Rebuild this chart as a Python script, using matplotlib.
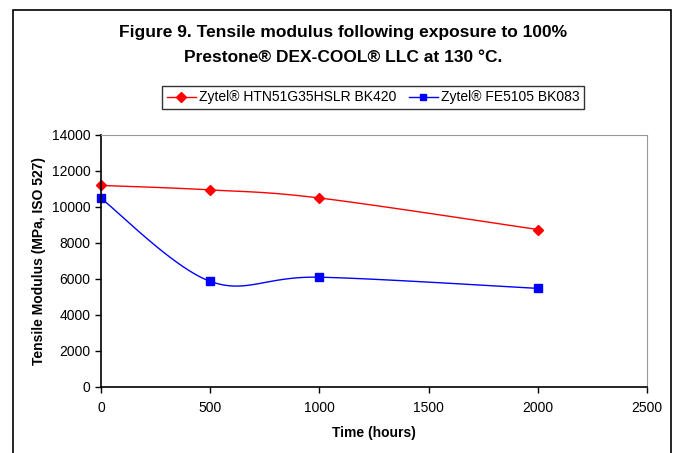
import numpy as np
import matplotlib
matplotlib.use("Agg")
from matplotlib import pyplot as plt
from matplotlib.patches import Rectangle
from matplotlib.lines import Line2D

plt.rcParams['font.family'] = ['Liberation Sans', 'DejaVu Sans']

# Data
hours = [0, 500, 1000, 2000]
htn51 = [11200, 10950, 10500, 8750]
fe5105 = [10480, 5870, 6100, 5480]
series_names = ["Zytel® HTN51G35HSLR BK420", "Zytel® FE5105 BK083"]
x_ticks = [0, 500, 1000, 1500, 2000, 2500]
y_ticks = [0, 2000, 4000, 6000, 8000, 10000, 12000, 14000]


def smooth(xs, ys, n=40):
    # Excel-style smoothed line: Catmull-Rom through the points as Bezier curves
    p = np.column_stack([xs, ys]).astype(float)
    p = np.vstack([p[0], p, p[-1]])
    out = []
    t = np.linspace(0, 1, n)[:, None]
    for i in range(1, len(p) - 2):
        p0, p1, p2, p3 = p[i - 1], p[i], p[i + 1], p[i + 2]
        c1 = p1 + (p2 - p0) / 6
        c2 = p2 - (p3 - p1) / 6
        seg = ((1 - t) ** 3) * p1 + 3 * ((1 - t) ** 2) * t * c1 + 3 * (1 - t) * t ** 2 * c2 + t ** 3 * p2
        out.append(seg)
    seg = np.vstack(out)
    return seg[:, 0], seg[:, 1]


fig = plt.figure(figsize=(6.76, 4.53), dpi=100)
W, H = 676, 453

# outer chart border
fig.patches.append(Rectangle((13 / W, -0.1), (671 - 13) / W, (453 - 10) / H + 0.1,
                             transform=fig.transFigure, fill=False, edgecolor="black", linewidth=1.2))

ax = fig.add_axes([101 / W, (H - 387) / H, 546 / W, 252 / H])

red = "#ff0000"
blue = "#0000ff"
sx, sy = smooth(hours, htn51)
ax.plot(sx, sy, color=red, linewidth=1.0, clip_on=False)
ax.plot(hours, htn51, linestyle="none", marker="D", markersize=5, color=red, clip_on=False)
sx, sy = smooth(hours, fe5105)
ax.plot(sx, sy, color=blue, linewidth=1.0, clip_on=False)
ax.plot(hours, fe5105, linestyle="none", marker="s", markersize=5.5, color=blue, clip_on=False)

ax.set_xlim(0, 2500)
ax.set_ylim(0, 14000)
ax.set_xticks(x_ticks)
ax.set_yticks(y_ticks)
ax.tick_params(axis="both", labelsize=10, direction="out", length=4, width=1, color="black")
ax.tick_params(axis="x", pad=6)
ax.spines["top"].set_color("#999999")
ax.spines["right"].set_color("#999999")
ax.spines["left"].set_linewidth(1.2)
ax.spines["bottom"].set_linewidth(1.2)

ax.set_xlabel("Time (hours)", fontsize=10, fontweight="bold", labelpad=8)
ax.set_ylabel("Tensile Modulus (MPa, ISO 527)", fontsize=10, fontweight="bold", labelpad=4)

fig.text(343 / W, 1 - 33 / H, "Figure 9. Tensile modulus following exposure to 100%",
         ha="center", va="center", fontsize=12.5, fontweight="bold")
fig.text(343 / W, 1 - 57 / H, "Prestone® DEX-COOL® LLC at 130 °C.",
         ha="center", va="center", fontsize=12.5, fontweight="bold")

handles = [
    Line2D([], [], color=red, marker="D", markersize=5, linewidth=1.0),
    Line2D([], [], color=blue, marker="s", markersize=5, linewidth=1.0),
]
leg = fig.legend(handles, series_names, loc="center", bbox_to_anchor=(373 / W, 1 - 97.5 / H),
                 ncol=2, fontsize=10, frameon=True, fancybox=False, handlelength=2.1,
                 handletextpad=0.2, columnspacing=0.9, borderpad=0.35, borderaxespad=0)
leg.get_frame().set_edgecolor("black")
leg.get_frame().set_linewidth(1.0)

fig.savefig("out.png", dpi=100)
